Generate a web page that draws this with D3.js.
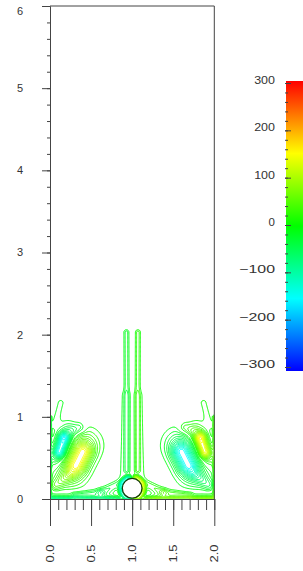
<!DOCTYPE html>
<html lang="en">
<head>
<meta charset="utf-8">
<title>vorticity</title>
<script src="https://d3js.org/d3.v7.min.js"></script>
<style>
  body { margin: 0; background: #fff; }
  svg { display: block; }
  text { font-family: "Liberation Sans", Arial, sans-serif; fill: #333; font-size: 11px; }
</style>
</head>
<body>
<div id="chart"></div>
<script>
// tick values / labels
var yMajor = [0, 1, 2, 3, 4, 5, 6];
var xMajor = [0, 0.5, 1, 1.5, 2];
var xLabels = ["0.0", "0.5", "1.0", "1.5", "2.0"];
var barTicks = [300, 200, 100, 0, -100, -200, -300];
var barLabels = ["300", "200", "100", "0", "\u2212100", "\u2212200", "\u2212300"];

// cylinder sitting on the floor
var cylinder = { x: 1.0, y: 0.13, r: 0.12 };

// vorticity features of the left half
// [x0, y0, x1, y1, strength, width]  (right half = mirror with opposite sign)
var features = [
  [0.32, 0.41, 0.40, 0.57, 110, 0.08],    // yellow vortex core
  [0.25, 0.33, 0.42, 0.66, 50, 0.13],     // yellow halo
  [0.24, 0.30, 0.07, 0.17, 35, 0.05],     // yellow tail
  [0.115, 0.57, 0.17, 0.73, -125, 0.05],  // cyan core
  [0.07, 0.48, 0.22, 0.84, -30, 0.08],    // cyan halo
  [0.18, 0.78, 0.36, 0.86, -30, 0.05],    // cyan tail over the top
  [0.06, 0.90, 0.13, 1.17, -13, 0.04],    // cap
  [0.00, 0.00, 0.00, 1.00, -40, 0.012],   // side wall layer
  [0.02, 0.00, 0.85, 0.00, -60, 0.02],    // floor layer
  [0.05, 0.00, 0.70, 0.00, -25, 0.06],
  [0.87, 0.20, 0.62, 0.08, -28, 0.035],   // sheet leaving cylinder
  [0.62, 0.08, 0.30, 0.045, -22, 0.03],
  [0.935, 0.35, 0.93, 2.03, -26, 0.022],  // plume finger
  [0.90, 0.30, 0.93, 1.25, -14, 0.05]     // plume trunk
];
// arcs round the cylinder: [cx, cy, r, a0, a1, strength, width]
var arcs = [
  [1.0, 0.13, 0.135, 90, 270, -110, 0.02]
];
var levels = d3.range(10, 301, 10);
var barMinor = d3.range(-300, 301, 20);

var W = 303, H = 571;
var x = d3.scaleLinear().domain([0, 2]).range([50, 214.3]);
var y = d3.scaleLinear().domain([0, 6]).range([499, 6]);
var cScale = d3.scaleLinear().domain([-300, 300]).range([367, 83]);
function color(v) { return d3.hsl(120 - 0.4 * v, 1, 0.5).toString(); }

var svg = d3.select("#chart").append("svg").attr("width", W).attr("height", H);

// ---- field on a grid
var step = 0.01, nx = 201, ny = 241;
function segDist(px, py, s) {
  var vx = s[2] - s[0], vy = s[3] - s[1], L = vx * vx + vy * vy;
  var t = L ? ((px - s[0]) * vx + (py - s[1]) * vy) / L : 0;
  t = Math.max(0, Math.min(1, t));
  return Math.hypot(s[0] + t * vx - px, s[1] + t * vy - py);
}
function arcDist(px, py, a) {
  var ddx = px - a[0], ddy = py - a[1];
  var ang = Math.atan2(ddy, ddx) * 180 / Math.PI;
  if (ang < 0) ang += 360;
  if (ang >= a[3] && ang <= a[4]) return Math.abs(Math.hypot(ddx, ddy) - a[2]);
  var r0 = a[3] * Math.PI / 180, r1 = a[4] * Math.PI / 180;
  return Math.min(
    Math.hypot(px - a[0] - a[2] * Math.cos(r0), py - a[1] - a[2] * Math.sin(r0)),
    Math.hypot(px - a[0] - a[2] * Math.cos(r1), py - a[1] - a[2] * Math.sin(r1)));
}
function half(px, py) {
  var v = 0;
  features.forEach(function(f) {
    var d = segDist(px, py, f);
    v += f[4] * Math.exp(-d * d / (2 * f[5] * f[5]));
  });
  arcs.forEach(function(a) {
    var d = arcDist(px, py, a);
    v += a[5] * Math.exp(-d * d / (2 * a[6] * a[6]));
  });
  return v;
}
var values = new Array(nx * ny);
for (var j = 0; j < ny; j++) {
  for (var i = 0; i < nx; i++) {
    var px = i * step, py = j * step;
    values[i + j * nx] = half(px, py) - half(2 - px, py);
  }
}

var contours = d3.contours().size([nx, ny]).thresholds(levels);
var pos = contours(values);
var neg = contours(values.map(function(v) { return -v; }));

var path = d3.geoPath(d3.geoTransform({
  point: function(cx, cy) {
    this.stream.point(x((cx - 0.5) * step), y((cy - 0.5) * step));
  }
}));

svg.append("clipPath").attr("id", "plotclip")
  .append("rect").attr("x", x(0)).attr("y", y(6)).attr("width", x(2) - x(0)).attr("height", y(0) - y(6));

var plot = svg.append("g").attr("clip-path", "url(#plotclip)");
plot.selectAll("path.pos").data(pos).join("path")
  .attr("class", "pos").attr("d", path).attr("fill", "none")
  .attr("stroke-width", 1).attr("stroke", function(d) { return color(d.value); });
plot.selectAll("path.neg").data(neg).join("path")
  .attr("class", "neg").attr("d", path).attr("fill", "none")
  .attr("stroke-width", 1).attr("stroke", function(d) { return color(-d.value); });

// cylinder
plot.append("circle")
  .attr("cx", x(cylinder.x)).attr("cy", y(cylinder.y))
  .attr("r", x(cylinder.r) - x(0))
  .attr("fill", "#fff").attr("stroke", "#123a08").attr("stroke-width", 1.3);

// ---- axes
var axisColor = "#444";
function styleAxis(g) {
  g.selectAll("path, line").attr("stroke", axisColor);
  g.selectAll("text").remove();
}
svg.append("g").attr("transform", "translate(" + x(0) + ",0)")
  .call(d3.axisLeft(y).tickValues(d3.range(0, 6.01, 0.2)).tickSize(3).tickSizeOuter(0)).call(styleAxis);
svg.append("g").attr("transform", "translate(" + x(0) + ",0)")
  .call(d3.axisLeft(y).tickValues(yMajor).tickSize(8).tickSizeOuter(0)).call(styleAxis);
svg.append("g").attr("transform", "translate(0," + y(0) + ")")
  .call(d3.axisBottom(x).tickValues(d3.range(0, 2.01, 0.1)).tickSize(11).tickSizeOuter(0)).call(styleAxis);
svg.append("g").attr("transform", "translate(0," + y(0) + ")")
  .call(d3.axisBottom(x).tickValues(xMajor).tickSize(27).tickSizeOuter(0)).call(styleAxis);

// frame top / right
svg.append("path")
  .attr("d", "M" + x(0) + "," + y(6) + "H" + x(2) + "V" + y(0))
  .attr("fill", "none").attr("stroke", axisColor);

// y labels
svg.selectAll("text.ylab").data(yMajor).join("text")
  .attr("class", "ylab")
  .attr("x", 23).attr("y", function(d) { return y(d) + (d === 6 ? 5.5 : 0); })
  .attr("dy", "0.35em").attr("text-anchor", "end")
  .text(function(d) { return d; });

// x labels (rotated)
svg.selectAll("text.xlab").data(xMajor).join("text")
  .attr("class", "xlab")
  .attr("transform", function(d) { return "translate(" + (x(d) + 3.5) + ",553.5) rotate(-90)"; })
  .attr("text-anchor", "middle")
  .attr("textLength", 18).attr("lengthAdjust", "spacingAndGlyphs")
  .style("font-size", "10px")
  .text(function(d, i) { return xLabels[i]; });

// ---- colour bar
var grad = svg.append("defs").append("linearGradient")
  .attr("id", "cbar").attr("x1", 0).attr("x2", 0).attr("y1", 1).attr("y2", 0);
grad.selectAll("stop").data(d3.range(-300, 301, 25)).join("stop")
  .attr("offset", function(d) { return (d + 300) / 600; })
  .attr("stop-color", color);
svg.append("rect")
  .attr("x", 286).attr("y", cScale(300) - 2)
  .attr("width", 20).attr("height", cScale(-300) - cScale(300) + 6)
  .attr("fill", "url(#cbar)");
svg.append("g").attr("transform", "translate(285,0)")
  .call(d3.axisRight(cScale).tickValues(barMinor).tickSize(3).tickSizeOuter(0)).call(styleAxis)
  .call(function(g) { g.select(".domain").remove(); });
svg.append("g").attr("transform", "translate(285,0)")
  .call(d3.axisRight(cScale).tickValues(barTicks).tickSize(6).tickSizeOuter(0)).call(styleAxis)
  .call(function(g) { g.select(".domain").remove(); });
svg.selectAll("text.clab").data(barTicks).join("text")
  .attr("class", "clab")
  .attr("x", 275).attr("y", function(d) { return cScale(d) - 3; })
  .attr("dy", "0.35em").attr("text-anchor", "end")
  .attr("textLength", function(d, i) { var s = barLabels[i]; return (s[0] === "\u2212" ? 15 : 0) + (s.replace("\u2212", "").length) * 7.2 - 0.8; })
  .attr("lengthAdjust", "spacingAndGlyphs")
  .text(function(d, i) { return barLabels[i]; });
</script>
</body>
</html>
